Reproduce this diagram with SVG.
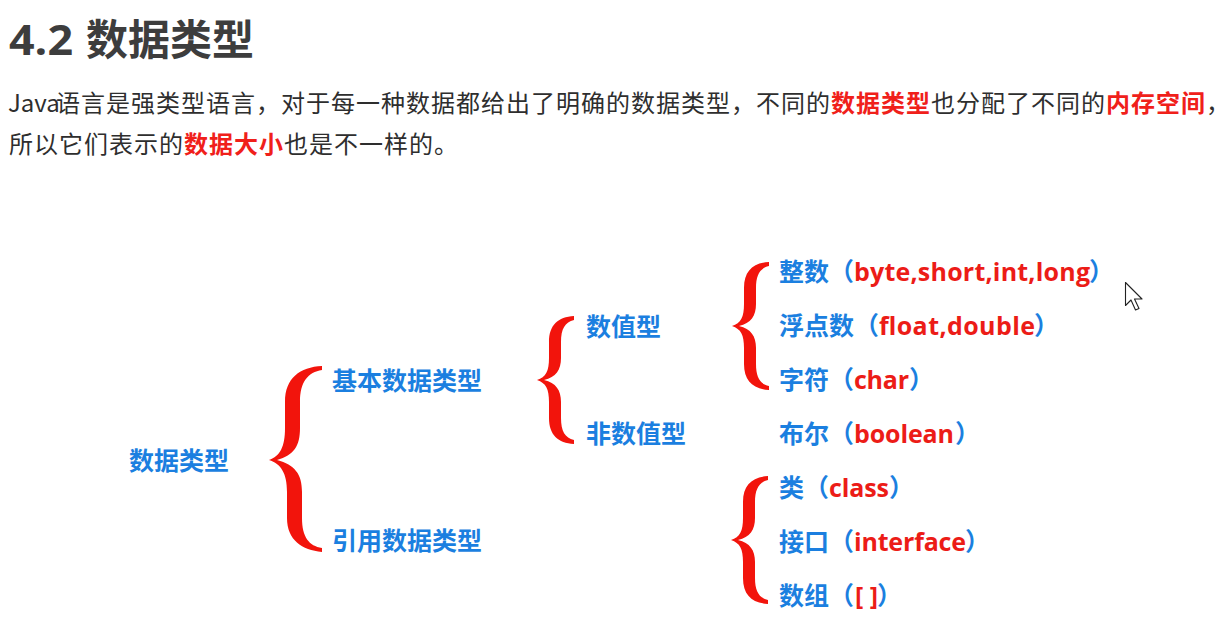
<svg xmlns="http://www.w3.org/2000/svg" width="1216" height="624" viewBox="0 0 1216 624">
<style>
.title{font-family:"Noto Sans CJK SC",sans-serif;font-weight:700;font-size:42px;fill:#3d3d3d}
.titlen{font-family:"Open Sans","Noto Sans CJK SC",sans-serif;font-weight:700;font-size:42px;fill:#3d3d3d}
.para{font-family:"Noto Sans CJK SC",sans-serif;font-size:24px;letter-spacing:1px;fill:#2e2e2e}
.hl{fill:#f0201a;font-weight:700}
.half{font-feature-settings:"halt" 1;letter-spacing:0}
.lb{font-family:"Noto Sans CJK SC",sans-serif;font-weight:700;font-size:25px;fill:#1b7fe0}
.lt{font-family:"Open Sans","Noto Sans CJK SC",sans-serif;font-weight:700;font-size:25px;fill:#ec1c17}
.brace{fill:#f2140c}
</style>
<defs>
<path id="sb" d="M 574 316 C 558 317, 549 325, 549 342 L 549 358 C 549 371, 546 377, 537 380 C 546 383, 549 389, 549 402 L 549 418 C 549 435, 558 443, 574 444 L 574 440 C 565 438, 561 431, 561 418 L 561 402 C 561 390, 556 383, 544 380 C 556 377, 561 370, 561 358 L 561 342 C 561 329, 565 322, 574 320 Z"/>
</defs>
<rect width="1216" height="624" fill="#ffffff"/>

<g id="heading">
<text class="titlen" x="9" y="55" textLength="64" lengthAdjust="spacingAndGlyphs">4.2</text>
<text class="title" x="86" y="55">数据类型</text>
</g>

<g id="paragraph">
<text class="para" x="8" y="112"><tspan style="letter-spacing:0">Java</tspan><tspan x="56">语言是强类型语言，对于每一种数据都给出了明确的数据类型，不同的</tspan><tspan class="hl">数据类型</tspan>也分配了不同的<tspan class="hl">内存空间</tspan><tspan class="half">，</tspan></text>
<text class="para" x="9" y="153">所以它们表示的<tspan class="hl">数据大小</tspan>也是不一样的。</text>
</g>

<g id="connectors">
<path class="brace" d="M 322 366 C 300 367, 285 378, 285 402 L 285 428 C 285 447, 280 456, 269 460 C 281 464, 287 473, 287 492 L 287 518 C 287 540, 302 550, 322 552 L 322 548 C 309 546, 302 537, 302 518 L 302 492 C 302 474, 295 465, 277 460 C 294 455, 300 446, 300 428 L 300 402 C 300 382, 308 372, 322 370 Z"/>
<use href="#sb" class="brace"/>
<use href="#sb" class="brace" transform="translate(195,-54)"/>
<use href="#sb" class="brace" transform="translate(194,160)"/>
</g>

<g id="node-datatype"><text class="lb" x="129" y="470">数据类型</text></g>
<g id="node-primitive"><text class="lb" x="332" y="390">基本数据类型</text></g>
<g id="node-reference"><text class="lb" x="332" y="550">引用数据类型</text></g>
<g id="node-numeric"><text class="lb" x="586" y="336">数值型</text></g>
<g id="node-nonnumeric"><text class="lb" x="586" y="443">非数值型</text></g>

<g id="node-integer">
<text class="lb" x="779" y="281">整数（</text>
<text class="lt" x="854" y="281" textLength="236" lengthAdjust="spacing">byte,short,int,long</text>
<text class="lb" x="1089" y="281">）</text>
</g>
<g id="node-float">
<text class="lb" x="779" y="335">浮点数（</text>
<text class="lt" x="879" y="335" textLength="156" lengthAdjust="spacing">float,double</text>
<text class="lb" x="1034" y="335">）</text>
</g>
<g id="node-char">
<text class="lb" x="779" y="389">字符（</text>
<text class="lt" x="854" y="389" textLength="55" lengthAdjust="spacing">char</text>
<text class="lb" x="909" y="389">）</text>
</g>
<g id="node-boolean">
<text class="lb" x="779" y="443">布尔（</text>
<text class="lt" x="854" y="443" textLength="100" lengthAdjust="spacing">boolean</text>
<text class="lb" x="955" y="443">）</text>
</g>
<g id="node-class">
<text class="lb" x="779" y="497">类（</text>
<text class="lt" x="829" y="497" textLength="60" lengthAdjust="spacing">class</text>
<text class="lb" x="889" y="497">）</text>
</g>
<g id="node-interface">
<text class="lb" x="779" y="551">接口（</text>
<text class="lt" x="854" y="551" textLength="112" lengthAdjust="spacing">interface</text>
<text class="lb" x="965" y="551">）</text>
</g>
<g id="node-array">
<text class="lb" x="779" y="605">数组（</text>
<text class="lt" x="855" y="605" textLength="23" lengthAdjust="spacing">[ ]</text>
<text class="lb" x="877" y="605">）</text>
</g>

<path d="M 0 0 V 23 L 5.5 17.5 L 10 27.5 L 13.5 26 L 9 16.5 H 16.5 Z" transform="translate(1125.5,282.5)" fill="#ffffff" stroke="#222222" stroke-width="1.1" stroke-linejoin="round"/>
</svg>
